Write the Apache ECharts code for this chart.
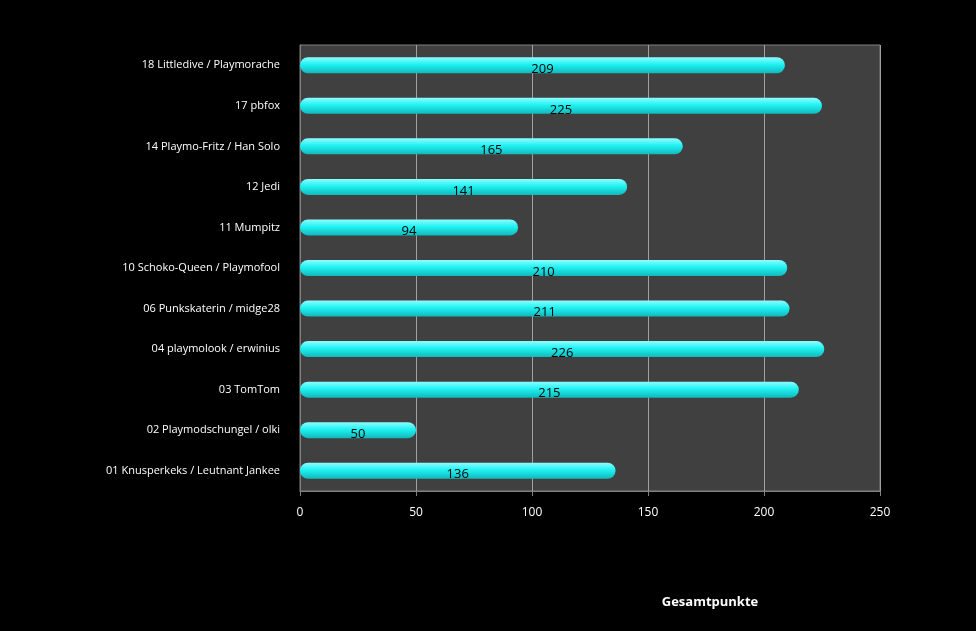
<!DOCTYPE html>
<html>
<head>
<meta charset="utf-8">
<script src="https://cdn.jsdelivr.net/npm/echarts@6/dist/echarts.min.js"></script>
<style>
html,body{margin:0;padding:0;background:#000;}
#chart{width:976px;height:631px;}
</style>
</head>
<body>
<div id="chart"></div>
<script>
// bottom to top, as the category axis draws them
var names = [
    '01 Knusperkeks / Leutnant Jankee',
    '02 Playmodschungel / olki',
    '03 TomTom',
    '04 playmolook / erwinius',
    '06 Punkskaterin / midge28',
    '10 Schoko-Queen / Playmofool',
    '11 Mumpitz',
    '12 Jedi',
    '14 Playmo-Fritz / Han Solo',
    '17 pbfox',
    '18 Littledive / Playmorache'
];
var points = [136, 50, 215, 226, 211, 210, 94, 141, 165, 225, 209];

var chart = echarts.init(document.getElementById('chart'));
chart.setOption({
    backgroundColor: '#000',
    animation: false,
    grid: {
        left: 300, right: 96, top: 45, bottom: 140,
        show: true, backgroundColor: '#404040', borderColor: '#808080', borderWidth: 1
    },
    xAxis: {
        type: 'value', min: 0, max: 250, interval: 50,
        name: 'Gesamtpunkte', nameLocation: 'middle', nameGap: 105,
        nameTextStyle: {color: '#fff', fontWeight: 'bold', fontSize: 13, fontFamily: 'Open Sans', padding: [0, 0, 0, 240]},
        axisLabel: {color: '#fff', fontSize: 12, fontFamily: 'Open Sans', margin: 16},
        axisLine: {show: true, lineStyle: {color: '#808080'}},
        axisTick: {show: true, lineStyle: {color: '#808080'}},
        splitLine: {lineStyle: {color: '#a0a0a0'}}
    },
    yAxis: {
        type: 'category', data: names,
        axisLabel: {color: '#fff', fontSize: 11, fontFamily: 'Open Sans', margin: 20},
        axisLine: {lineStyle: {color: '#808080'}},
        axisTick: {show: false}
    },
    series: [{
        type: 'bar',
        data: points,
        barWidth: 16,
        itemStyle: {
            borderRadius: 8,
            color: new echarts.graphic.LinearGradient(0, 0, 0, 1, [
                {offset: 0, color: '#8ffcff'},
                {offset: 0.45, color: '#1ff2f2'},
                {offset: 1, color: '#12b8bb'}
            ])
        },
        label: {
            show: true, position: 'inside', color: '#000',
            fontSize: 13, fontFamily: 'Open Sans', offset: [0, 4]
        }
    }]
});
</script>
</body>
</html>
